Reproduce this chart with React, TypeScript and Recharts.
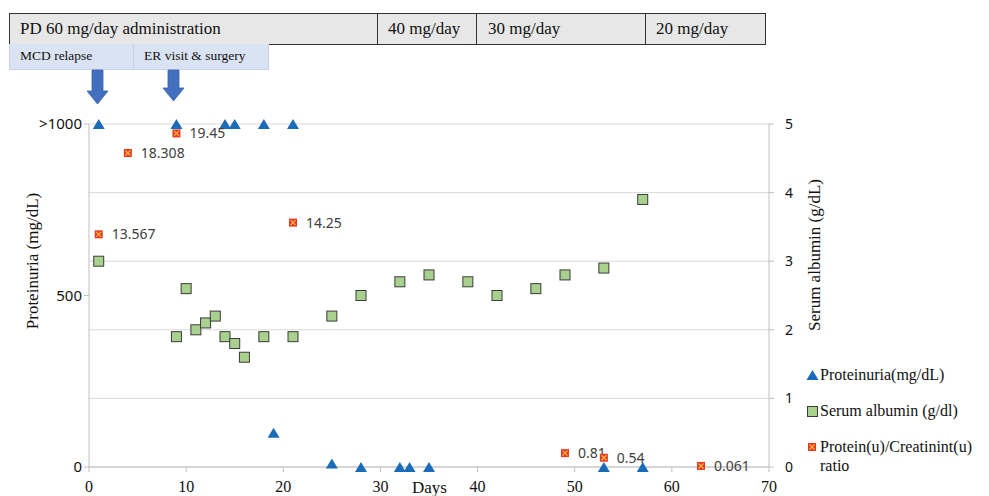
import React from 'react'
import {
  ComposedChart,
  Scatter,
  XAxis,
  YAxis,
  CartesianGrid,
} from 'recharts'

// Proteinuria (mg/dL), left axis; 1000 stands for ">1000"
const proteinuriaDays = [1, 9, 14, 15, 18, 21, 19, 25, 28, 32, 33, 35, 53, 57]
const proteinuriaValues = [1000, 1000, 1000, 1000, 1000, 1000, 100, 10, 0, 0, 0, 0, 0, 0]

// Serum albumin (g/dL), right axis
const albuminDays = [1, 9, 10, 11, 12, 13, 14, 15, 16, 18, 21, 25, 28, 32, 35, 39, 42, 46, 49, 53, 57]
const albuminValues = [3.0, 1.9, 2.6, 2.0, 2.1, 2.2, 1.9, 1.8, 1.6, 1.9, 1.9, 2.2, 2.5, 2.7, 2.8, 2.7, 2.5, 2.6, 2.8, 2.9, 3.9]

// Protein(u)/Creatinine(u) ratio, hidden axis
const ratioDays = [1, 4, 9, 21, 49, 53, 63]
const ratioValues = [13.567, 18.308, 19.45, 14.25, 0.81, 0.54, 0.061]

const xTicks = [0, 10, 20, 30, 40, 50, 60, 70]
const leftTicks = [0, 500, 1000]
const rightTicks = [0, 1, 2, 3, 4, 5]

const doseLabels = ['PD 60 mg/day administration', '40 mg/day', '30 mg/day', '20 mg/day']
const eventLabels = ['MCD relapse', 'ER visit & surgery']

const proteinuria = proteinuriaDays.map((d, i) => ({ day: d, value: proteinuriaValues[i] }))
const albumin = albuminDays.map((d, i) => ({ day: d, value: albuminValues[i] }))
const ratio = ratioDays.map((d, i) => ({ day: d, value: ratioValues[i] }))

const SERIF = '"Liberation Serif", "Times New Roman", serif'
const SANS = '"Noto Sans", "Open Sans", sans-serif'
const BLUE = '#1a6cb9'
const GREEN = '#a9d18e'
const RED = '#e83a1c'

const Triangle = ({ cx, cy }: any) => (
  <path d={`M${cx - 6},${cy + 5} L${cx + 6},${cy + 5} L${cx},${cy - 5} Z`} fill={BLUE} />
)

const Square = ({ cx, cy }: any) => (
  <rect x={cx - 5} y={cy - 5} width={10} height={10} fill={GREEN} stroke="#3b3b3b" strokeWidth={1} />
)

const RatioMark = ({ cx, cy, payload }: any) => (
  <g>
    <rect x={cx - 4} y={cy - 4} width={8} height={8} fill={RED} />
    <path d={`M${cx - 2.5},${cy - 2.5} L${cx + 2.5},${cy + 2.5} M${cx + 2.5},${cy - 2.5} L${cx - 2.5},${cy + 2.5}`} stroke="#f7b74a" strokeWidth={1.2} />
    <text x={cx + 13} y={cy + 5} fill="#404040" fontFamily={SANS} fontSize={14}>
      {payload.value}
    </text>
  </g>
)

const LegendBox = () => (
  <div style={{ position: 'absolute', left: 806, top: 365, width: 180, fontFamily: SERIF, fontSize: 16, color: '#111', lineHeight: '19px' }}>
    <div style={{ display: 'flex', alignItems: 'center', marginBottom: 17 }}>
      <svg width={13} height={12}><path d="M0.5,11 L12.5,11 L6.5,1 Z" fill={BLUE} /></svg>
      <span style={{ marginLeft: 1 }}>Proteinuria(mg/dL)</span>
    </div>
    <div style={{ display: 'flex', alignItems: 'center', marginBottom: 17 }}>
      <svg width={13} height={12}><rect x={1.5} y={1.5} width={10} height={10} fill={GREEN} stroke="#3b3b3b" /></svg>
      <span style={{ marginLeft: 1 }}>Serum albumin (g/dl)</span>
    </div>
    <div style={{ display: 'flex', alignItems: 'flex-start' }}>
      <svg width={13} height={12} style={{ marginTop: 4 }}>
        <rect x={2} y={2} width={8} height={8} fill={RED} />
        <path d="M3.5,3.5 L8.5,8.5 M8.5,3.5 L3.5,8.5" stroke="#f7b74a" strokeWidth={1.2} />
      </svg>
      <span style={{ marginLeft: 1 }}>Protein(u)/Creatinint(u)<br />ratio</span>
    </div>
  </div>
)

const cell = (left: number, width: number, top: number, height: number, bg: string, border: string): React.CSSProperties => ({
  position: 'absolute',
  left,
  top,
  width,
  height,
  background: bg,
  border: `1px solid ${border}`,
  boxSizing: 'border-box',
  fontFamily: SERIF,
  color: '#111',
  whiteSpace: 'nowrap',
})

export default function App() {
  return (
    <div style={{ position: 'absolute', left: 0, top: 0, width: 989, height: 496, background: '#fff' }}>
      <ComposedChart width={989} height={496} margin={{ top: 124, right: 160, left: 39, bottom: 0 }}>
        <CartesianGrid yAxisId="right" vertical={false} stroke="#d9d9d9" />
        <XAxis
          type="number"
          dataKey="day"
          domain={[0, 70]}
          ticks={xTicks}
          height={29}
          stroke="#bfbfbf"
          tickSize={5}
          tickMargin={9}
          tick={{ fill: '#111', fontFamily: SERIF, fontSize: 16 }}
          label={{ content: () => <text x={412} y={493} fontFamily={SERIF} fontSize={17} fill="#111">Days</text> }}
        />
        <YAxis
          yAxisId="left"
          type="number"
          domain={[0, 1000]}
          ticks={leftTicks}
          width={50}
          stroke="#bfbfbf"
          tickSize={5}
          tick={{ fill: '#111', fontFamily: SANS, fontSize: 15 }}
          tickFormatter={(v: number) => (v === 1000 ? '>1000' : String(v))}
          label={{
            content: () => (
              <text transform="translate(38,261) rotate(-90)" textAnchor="middle" fontFamily={SERIF} fontSize={17} fill="#111">
                Proteinuria (mg/dL)
              </text>
            ),
          }}
        />
        <YAxis
          yAxisId="right"
          orientation="right"
          type="number"
          domain={[0, 5]}
          ticks={rightTicks}
          width={60}
          stroke="#bfbfbf"
          tickSize={5}
          tickMargin={11}
          tick={{ fill: '#111', fontFamily: SANS, fontSize: 14 }}
          label={{
            content: () => (
              <text transform="translate(820,255) rotate(-90)" textAnchor="middle" fontFamily={SERIF} fontSize={17} fill="#111">
                Serum albumin (g/dL)
              </text>
            ),
          }}
        />
        <YAxis yAxisId="ratio" hide type="number" domain={[0, 20]} />
        <Scatter name="Serum albumin (g/dl)" data={albumin} dataKey="value" yAxisId="right" shape={<Square />} isAnimationActive={false} />
        <Scatter name="Proteinuria(mg/dL)" data={proteinuria} dataKey="value" yAxisId="left" shape={<Triangle />} isAnimationActive={false} />
        <Scatter name="Protein(u)/Creatinint(u) ratio" data={ratio} dataKey="value" yAxisId="ratio" shape={<RatioMark />} isAnimationActive={false} />
      </ComposedChart>

      <LegendBox />

      {/* dose row */}
      <div style={cell(9, 369, 13, 32, '#e7e7e7', '#333')}>
        <span style={{ position: 'absolute', left: 10, top: 5, fontSize: 17 }}>{doseLabels[0]}</span>
      </div>
      <div style={cell(377, 100, 13, 32, '#e7e7e7', '#333')}>
        <span style={{ position: 'absolute', left: 10, top: 5, fontSize: 17 }}>{doseLabels[1]}</span>
      </div>
      <div style={cell(476, 170, 13, 32, '#e7e7e7', '#333')}>
        <span style={{ position: 'absolute', left: 11, top: 5, fontSize: 17 }}>{doseLabels[2]}</span>
      </div>
      <div style={cell(645, 121, 13, 32, '#e7e7e7', '#333')}>
        <span style={{ position: 'absolute', left: 10, top: 5, fontSize: 17 }}>{doseLabels[3]}</span>
      </div>

      {/* event row */}
      <div style={{ ...cell(9, 125, 44, 26, '#dae3f3', '#c9d3e3'), borderTop: 'none' }}>
        <span style={{ position: 'absolute', left: 10, top: 4, fontSize: 13.5 }}>{eventLabels[0]}</span>
      </div>
      <div style={{ ...cell(133, 136, 44, 26, '#dae3f3', '#c9d3e3'), borderTop: 'none' }}>
        <span style={{ position: 'absolute', left: 10, top: 4, fontSize: 13.5 }}>{eventLabels[1]}</span>
      </div>

      {/* arrows */}
      <svg style={{ position: 'absolute', left: 0, top: 0 }} width={300} height={110}>
        <path d="M92,70 L103,70 L103,91 L108,91 L97.5,104 L87,91 L92,91 Z" fill="#4270be" stroke="#3a62a8" strokeWidth={0.8} />
        <path d="M168,70 L179,70 L179,88 L184,88 L173.5,101 L163,88 L168,88 Z" fill="#4270be" stroke="#3a62a8" strokeWidth={0.8} />
      </svg>
    </div>
  )
}
